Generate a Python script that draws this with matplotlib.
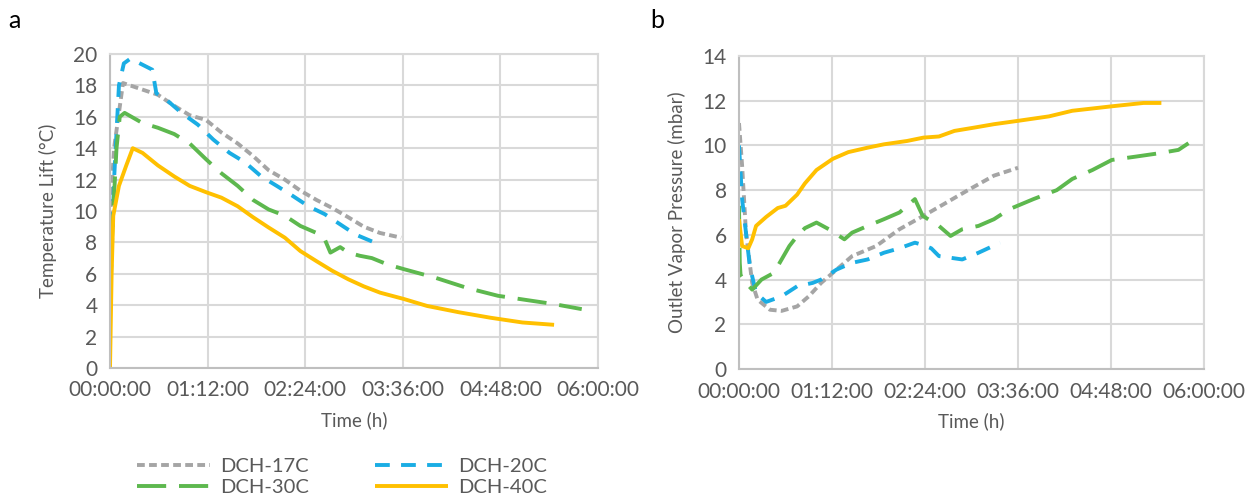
import matplotlib
matplotlib.use("Agg")
import matplotlib.pyplot as plt
from matplotlib.ticker import FuncFormatter, MultipleLocator

plt.rcParams['font.family'] = ['Lato', 'DejaVu Sans']

# ---------------- data (time in hours) ----------------
# Panel a: Temperature lift (°C)
a17_t = [0.0, 0.05, 0.16, 0.59, 0.79, 0.98, 1.18, 1.37, 1.57, 1.76, 1.95, 2.15, 2.34, 2.54, 2.73, 2.93, 3.12, 3.32, 3.58]
a17_v = [9.5, 14.0, 18.15, 17.4, 16.7, 16.1, 15.8, 15.0, 14.3, 13.5, 12.6, 12.0, 11.3, 10.7, 10.2, 9.6, 9.0, 8.6, 8.3]

a20_t = [0.0, 0.05, 0.11, 0.17, 0.25, 0.33, 0.52, 0.57, 0.69, 0.88, 1.08, 1.27, 1.47, 1.66, 1.86, 2.05, 2.25, 2.44, 2.64, 2.83, 3.02, 3.34]
a20_v = [4.0, 12.0, 18.0, 19.4, 19.7, 19.5, 19.0, 17.5, 17.1, 16.25, 15.5, 14.55, 13.7, 13.1, 12.2, 11.6, 10.95, 10.3, 9.8, 9.15, 8.5, 7.8]

a30_t = [0.0, 0.03, 0.08, 0.12, 0.18, 0.40, 0.59, 0.79, 0.98, 1.18, 1.37, 1.57, 1.76, 1.95, 2.15, 2.34, 2.54, 2.64, 2.71, 2.83, 2.93, 3.07, 3.22, 3.41, 3.61, 4.0, 4.39, 4.77, 5.16, 5.46, 5.8]
a30_v = [5.0, 9.0, 14.0, 16.0, 16.25, 15.6, 15.3, 14.9, 14.3, 13.3, 12.4, 11.6, 10.7, 10.1, 9.7, 9.05, 8.6, 8.2, 7.35, 7.7, 7.35, 7.15, 7.0, 6.6, 6.3, 5.75, 5.1, 4.6, 4.3, 4.07, 3.75]

a40_t = [0.0, 0.02, 0.04, 0.11, 0.20, 0.28, 0.40, 0.59, 0.79, 0.98, 1.18, 1.37, 1.57, 1.76, 1.95, 2.15, 2.34, 2.54, 2.73, 2.93, 3.12, 3.32, 3.61, 3.9, 4.29, 4.68, 5.07, 5.46]
a40_v = [0.0, 6.0, 9.7, 11.6, 12.9, 14.0, 13.7, 12.9, 12.2, 11.6, 11.2, 10.85, 10.3, 9.6, 8.95, 8.3, 7.45, 6.8, 6.2, 5.65, 5.2, 4.8, 4.4, 3.95, 3.55, 3.2, 2.9, 2.75]

# Panel b: Outlet vapor pressure (mbar)
b17_t = [0.0, 0.04, 0.09, 0.17, 0.24, 0.40, 0.55, 0.75, 0.90, 1.06, 1.26, 1.46, 1.77, 2.07, 2.38, 2.68, 2.98, 3.29, 3.6]
b17_v = [11.0, 9.1, 6.1, 3.85, 3.1, 2.65, 2.6, 2.8, 3.25, 3.85, 4.45, 5.05, 5.5, 6.25, 6.85, 7.45, 8.05, 8.65, 9.0]

b20_t = [0.0, 0.04, 0.09, 0.14, 0.22, 0.35, 0.55, 0.75, 0.95, 1.06, 1.26, 1.46, 1.66, 1.87, 2.07, 2.27, 2.37, 2.48, 2.58, 2.78, 2.88, 3.09, 3.37]
b20_v = [10.0, 7.6, 6.1, 4.6, 3.4, 3.0, 3.25, 3.7, 3.85, 4.0, 4.45, 4.75, 4.9, 5.2, 5.4, 5.65, 5.55, 5.4, 5.05, 4.95, 4.9, 5.2, 5.65]

b30_t = [0.0, 0.01, 0.02, 0.09, 0.17, 0.29, 0.45, 0.55, 0.65, 0.75, 0.85, 1.0, 1.16, 1.36, 1.46, 1.66, 1.87, 2.07, 2.27, 2.37, 2.58, 2.73, 2.88, 3.09, 3.29, 3.49, 3.8, 4.1, 4.3, 4.56, 4.81, 5.12, 5.42, 5.67, 5.8]
b30_v = [7.3, 4.75, 4.2, 3.85, 3.55, 4.0, 4.3, 4.9, 5.5, 5.95, 6.3, 6.55, 6.25, 5.8, 6.1, 6.4, 6.7, 7.0, 7.6, 6.85, 6.4, 5.95, 6.25, 6.4, 6.7, 7.15, 7.6, 8.0, 8.5, 8.9, 9.35, 9.5, 9.65, 9.8, 10.1]

b40_t = [0.0, 0.04, 0.12, 0.17, 0.22, 0.35, 0.50, 0.60, 0.75, 0.85, 1.0, 1.21, 1.41, 1.66, 1.87, 2.17, 2.38, 2.58, 2.78, 3.04, 3.29, 3.6, 4.0, 4.3, 4.81, 5.22, 5.45]
b40_v = [6.7, 5.5, 5.4, 5.8, 6.4, 6.8, 7.2, 7.3, 7.8, 8.3, 8.9, 9.4, 9.7, 9.9, 10.05, 10.2, 10.35, 10.4, 10.65, 10.8, 10.95, 11.1, 11.3, 11.55, 11.75, 11.9, 11.9]

labels = ['DCH-17C', 'DCH-20C', 'DCH-30C', 'DCH-40C']
x_ticks = [0, 1.2, 2.4, 3.6, 4.8, 6.0]

# ---------------- styles ----------------
TXT = '#595959'
GRID = '#D9D9D9'
styles = {
    'DCH-17C': dict(color='#A5A5A5', dashes=(2.0, 1.1)),
    'DCH-20C': dict(color='#1AADE4', dashes=(3.8, 2.9)),
    'DCH-30C': dict(color='#5DB84E', dashes=(7.5, 3.3)),
    'DCH-40C': dict(color='#FFC000', linestyle='-'),
}
LW = 2.8


def hms(x, pos):
    total = int(round(x * 3600))
    h = total // 3600
    m = (total % 3600) // 60
    s = total % 60
    return f"{h:02d}:{m:02d}:{s:02d}"


fig = plt.figure(figsize=(12.57, 5.0), dpi=100)
ax1 = fig.add_axes([110 / 1257, 1 - 368 / 500, 488 / 1257, 314 / 500])
ax2 = fig.add_axes([739 / 1257, 1 - 369 / 500, 465 / 1257, 313 / 500])


def style_axes(ax, ymax, ystep, ylabel):
    ax.set_xlim(0, 6)
    ax.set_ylim(0, ymax)
    ax.set_xticks(x_ticks)
    ax.xaxis.set_major_formatter(FuncFormatter(hms))
    ax.yaxis.set_major_locator(MultipleLocator(ystep))
    ax.grid(True, color=GRID, linewidth=1.5)
    ax.set_axisbelow(True)
    for sp in ax.spines.values():
        sp.set_color(GRID)
        sp.set_linewidth(1.5)
    ax.spines['left'].set_color('#BFBFBF')
    ax.spines['bottom'].set_color('#BFBFBF')
    ax.tick_params(length=0, labelsize=15, colors=TXT, pad=9)
    ax.set_xlabel('Time (h)', fontsize=13.5, color=TXT, labelpad=8)
    ax.set_ylabel(ylabel, fontsize=13.5, color=TXT, labelpad=12)


series_a = [(a17_t, a17_v), (a20_t, a20_v), (a30_t, a30_v), (a40_t, a40_v)]
series_b = [(b17_t, b17_v), (b20_t, b20_v), (b30_t, b30_v), (b40_t, b40_v)]

handles = {}
for lab, (t, v) in zip(labels, series_a):
    st = styles[lab]
    h, = ax1.plot(t, v, lw=LW, label=lab, solid_capstyle='butt', dash_capstyle='butt', **st)
    handles[lab] = h
for lab, (t, v) in zip(labels, series_b):
    st = styles[lab]
    ax2.plot(t, v, lw=LW, label=lab, solid_capstyle='butt', dash_capstyle='butt', **st)

style_axes(ax1, 20, 2, 'Temperature Lift (°C)')
style_axes(ax2, 14, 2, 'Outlet Vapor Pressure (mbar)')

fig.text(8 / 1257, 1 - 20 / 500, 'a', fontsize=18, color='black', va='center', ha='left')
fig.text(650 / 1257, 1 - 20 / 500, 'b', fontsize=18, color='black', va='center', ha='left')

order = ['DCH-17C', 'DCH-30C', 'DCH-20C', 'DCH-40C']
leg = fig.legend([handles[k] for k in order], order, ncol=2, loc='center',
                 bbox_to_anchor=(342 / 1257, 1 - 477 / 500),
                 frameon=False, fontsize=14.5, handlelength=3.6, columnspacing=3.3,
                 labelspacing=0.2, handletextpad=0.5, borderpad=0.0)
for txt in leg.get_texts():
    txt.set_color(TXT)

fig.savefig('out.png', dpi=100)
